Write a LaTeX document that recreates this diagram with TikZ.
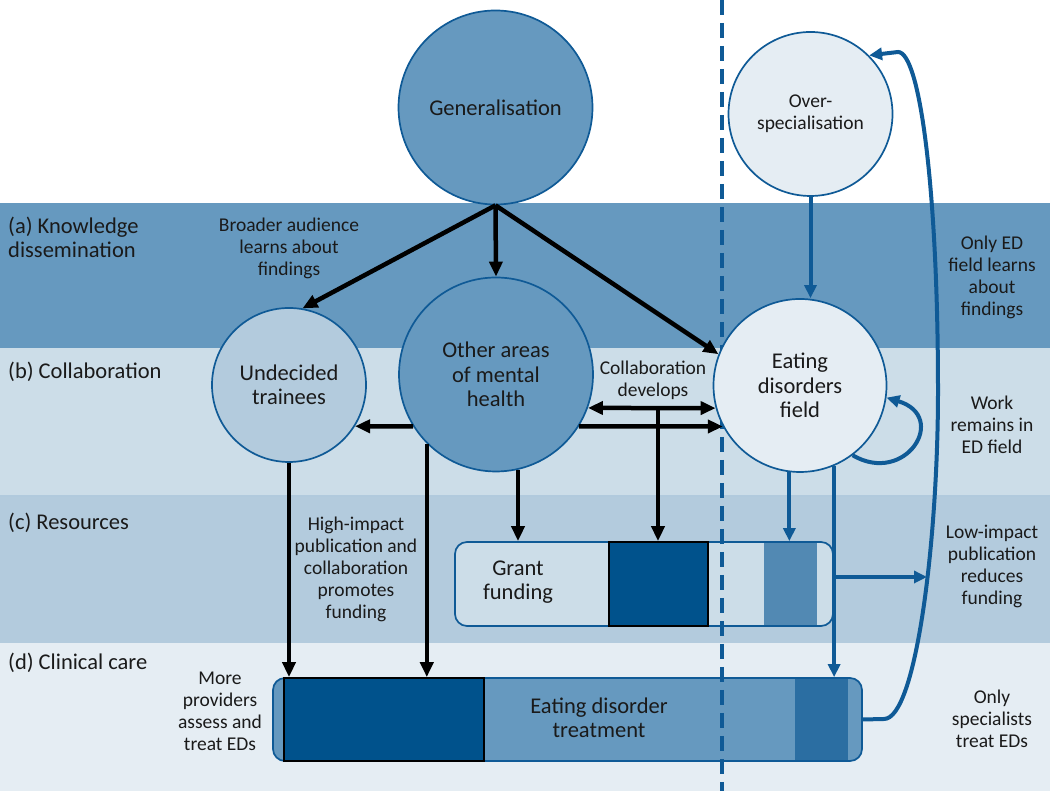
\documentclass[tikz,border=0pt]{standalone}
\usepackage{fontspec}
\setmainfont{Carlito}
\usetikzlibrary{arrows.meta}
\definecolor{bandA}{HTML}{6699BF}
\definecolor{bandB}{HTML}{CCDDE8}
\definecolor{bandC}{HTML}{B3CBDD}
\definecolor{bandD}{HTML}{E5EDF3}
\definecolor{edblue}{HTML}{0F5A96}
\definecolor{deepblue}{HTML}{00528C}
\definecolor{midblue}{HTML}{5289B3}
\definecolor{darkblue}{HTML}{2B6EA2}
\definecolor{inkgrey}{HTML}{1A1A1A}

\begin{document}
\begin{tikzpicture}
[x=1pt,y=1pt,>={Triangle[length=15pt,width=13pt]},
 bubble/.style={circle,draw=edblue,line width=1.7pt,inner sep=0pt,text=inkgrey},
 bigtext/.style={font=\fontsize{22.5}{24.5}\selectfont,align=center,text=inkgrey},
 smalltext/.style={font=\fontsize{19.5}{22}\selectfont,align=center,text=inkgrey},
 bandlabel/.style={font=\fontsize{22.5}{23.5}\selectfont,align=left,anchor=west,text=inkgrey,inner sep=0pt},
 push/.style={->,line width=4.5pt,black},
 bluepush/.style={-{Triangle[length=13pt,width=12pt]},line width=4pt,edblue},
 bar/.style={rounded corners=12pt,draw=edblue,line width=1.7pt,inner sep=0pt}]

\useasboundingbox (0,0) rectangle (1050,791);

% the bands
\fill[bandA] (0,443) rectangle (1050,588);
\fill[bandB] (0,295) rectangle (1050,443);
\fill[bandC] (0,148) rectangle (1050,295);
\fill[bandD] (0,0) rectangle (1050,148);
\draw[line width=1.2pt,color=midblue!45] (0,295) -- (1050,295);

% the bars
\node[bar,fill=bandB,minimum width=378pt,minimum height=84pt] (grant) at (644,207) {};
\filldraw[fill=deepblue,draw=black,line width=1.3pt] (609,165) rectangle (708,249);
\fill[midblue] (764,165.9) rectangle (817,248.1);
\node[bigtext] (grantlbl) at (518,209) {Grant\\funding};

\node[bar,fill=bandA,minimum width=589pt,minimum height=83pt] (treat) at (567.5,71.5) {};
\filldraw[fill=deepblue,draw=black,line width=1.3pt] (284,30) rectangle (484,113);
\fill[darkblue] (795,30.9) rectangle (848,112.1);
\node[bigtext] (treatlbl) at (599,73) {Eating disorder\\treatment};

% the divide
\draw[edblue,line width=3.4pt,dash pattern=on 15pt off 8pt] (722,791) -- (722,0);

% the circles
\node[bubble,fill=bandA,minimum size=194pt,bigtext] (gen) at (495.5,683.5) {Generalisation};
\node[bubble,fill=bandD,minimum size=164pt,smalltext] (over) at (810.5,677) {Over-\\specialisation};
\node[bubble,fill=bandC,minimum size=154pt,bigtext] (und) at (289,406) {Undecided\\trainees};
\node[bubble,fill=bandA,minimum size=194pt,bigtext] (oth) at (496,416.5) {Other areas\\of mental\\health};
\node[bubble,fill=bandD,minimum size=173pt,bigtext] (eat) at (800,405.5) {Eating\\disorders\\field};

% the black arrows
\draw[push] (gen.south) -- (und.80);
\draw[push] (gen.south) -- (oth.north);
\draw[push] (gen.south) -- (eat.159);
\draw[push,<->] (oth.-20) -- (eat.195);
\draw[push] (oth.212) -- (und.-32);
\draw[push] (oth.-32) -- (eat.208);
\coordinate (dev) at (658,383);
\draw[push] (dev) -- (dev |- grant.north);
\draw[push] (oth.-77) -- (oth.-77 |- grant.north);
\draw[push] (und.south) -- (und.south |- treat.north);
\draw[push] (oth.-135) -- (oth.-135 |- treat.north);

% the blue arrows
\draw[bluepush] (over.south) -- (over.south |- eat.north);
\draw[bluepush] (eat.-97) -- (eat.-97 |- grant.north);
\draw[bluepush] (eat.-67) -- (eat.-67 |- treat.north);
\coordinate (lowfork) at (eat.-67 |- 0,214);
\coordinate (lowend) at (927,214);
\draw[bluepush] (lowfork) -- (lowend);
\draw[bluepush] (eat.-53) .. controls +(53,-31) and +(63,-19) .. (eat.-8);
\draw[bluepush] (treat.east) -- (884,72) .. controls (916,72) and (938,250) .. (938,400)
  .. controls (938,600) and (920,739) .. (898,739) -- (over.45);

% labelling the bands
\node[bandlabel] (lblA) at (8,553.5) {(a) Knowledge\\dissemination};
\node[bandlabel] (lblB) at (8,419) {(b) Collaboration};
\node[bandlabel] (lblC) at (8,268) {(c) Resources};
\node[bandlabel] (lblD) at (8,128) {(d) Clinical care};

% labelling the effects
\node[smalltext] (broad) at (289,543) {Broader audience\\learns about\\findings};
\node[smalltext] (highimp) at (356,222) {High-impact\\publication and\\collaboration\\promotes\\funding};
\node[smalltext] (moreprov) at (220,80) {More\\providers\\assess and\\treat EDs};
\node[smalltext] (collab) at (653,410.5) {Collaboration\\develops};
\node[smalltext] (onlyed) at (992,514) {Only ED\\field learns\\about\\findings};
\node[smalltext] (remains) at (992,366) {Work\\remains in\\ED field};
\node[smalltext] (lowimp) at (992,225) {Low-impact\\publication\\reduces\\funding};
\node[smalltext] (onlyspec) at (992,72) {Only\\specialists\\treat EDs};

\end{tikzpicture}
\end{document}
